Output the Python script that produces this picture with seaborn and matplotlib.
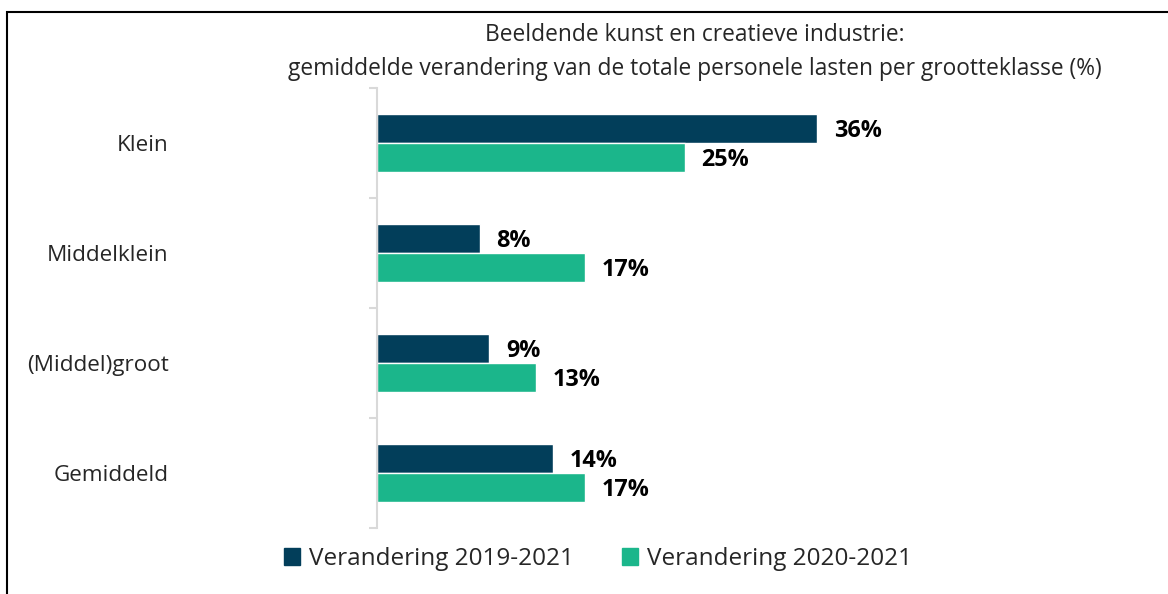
import matplotlib
matplotlib.use("Agg")
import matplotlib.pyplot as plt
import matplotlib.patches as mpatches
import pandas as pd
import seaborn as sns

# data
categories = ["Klein", "Middelklein", "(Middel)groot", "Gemiddeld"]
series = ["Verandering 2019-2021", "Verandering 2020-2021"]
change_19_21 = [36.0, 8.4, 9.2, 14.4]
change_20_21 = [25.2, 17.0, 13.0, 17.0]
colors = ["#023E5A", "#1BB68B"]

title = ("Beeldende kunst en creatieve industrie:\n"
         "gemiddelde verandering van de totale personele lasten per grootteklasse (%)")

df = pd.DataFrame({
    "cat": categories * 2,
    "serie": [series[0]] * 4 + [series[1]] * 4,
    "val": change_19_21 + change_20_21,
})

sns.set_style("white")
plt.rcParams["font.family"] = ["Open Sans", "DejaVu Sans"]

fig = plt.figure(figsize=(11.68, 5.94), dpi=100)
ax = fig.add_axes([377 / 1168, 66 / 594, 611 / 1168, 440 / 594])

sns.barplot(data=df, y="cat", x="val", hue="serie", order=categories,
            hue_order=series, palette=colors, orient="h", width=0.53,
            saturation=1, ax=ax, legend=False)

# value labels
for cont in ax.containers:
    for bar, v in zip(cont, cont.datavalues):
        ax.annotate(f"{v:.0f}%", (bar.get_width(), bar.get_y() + bar.get_height() / 2),
                    xytext=(12, -2), textcoords="offset points", ha="left", va="center",
                    fontsize=16.8, fontweight="bold", color="black")

ax.set_xlim(0, 50)
ax.set_ylim(3.5, -0.5)
ax.set_xlabel("")
ax.set_ylabel("")
ax.set_xticks([])

for s in ["top", "right", "bottom"]:
    ax.spines[s].set_visible(False)
ax.spines["left"].set_color("#D9D9D9")
ax.spines["left"].set_linewidth(1.5)

# category labels far to the left, separators at group boundaries
ax.set_yticks(range(len(categories)))
ax.set_yticklabels(categories, fontsize=16.2)
ax.tick_params(axis="y", which="major", length=0, pad=150)
ax.set_yticks([-0.5, 0.5, 1.5, 2.5, 3.5], minor=True)
ax.tick_params(axis="y", which="minor", length=6, width=1.5, color="#D9D9D9", left=True)

fig.text(695 / 1168, 1 - 52 / 594, title, ha="center", va="center",
         fontsize=16.4, linespacing=1.55)

handles = [mpatches.Patch(color=c, label=s) for c, s in zip(colors, series)]
fig.legend(handles=handles, loc="center", bbox_to_anchor=(598 / 1168, 35 / 594),
           ncol=2, frameon=False, fontsize=17.5, handlelength=0.65, handleheight=0.65,
           handletextpad=0.35, columnspacing=2.0)

# outer frame
frame = mpatches.Rectangle((7 / 1168, -0.1), 1.2, 1 - 12 / 594 + 0.1,
                           transform=fig.transFigure, fill=False,
                           edgecolor="black", linewidth=1.5)
fig.patches.append(frame)

fig.savefig("out.png", dpi=100)
